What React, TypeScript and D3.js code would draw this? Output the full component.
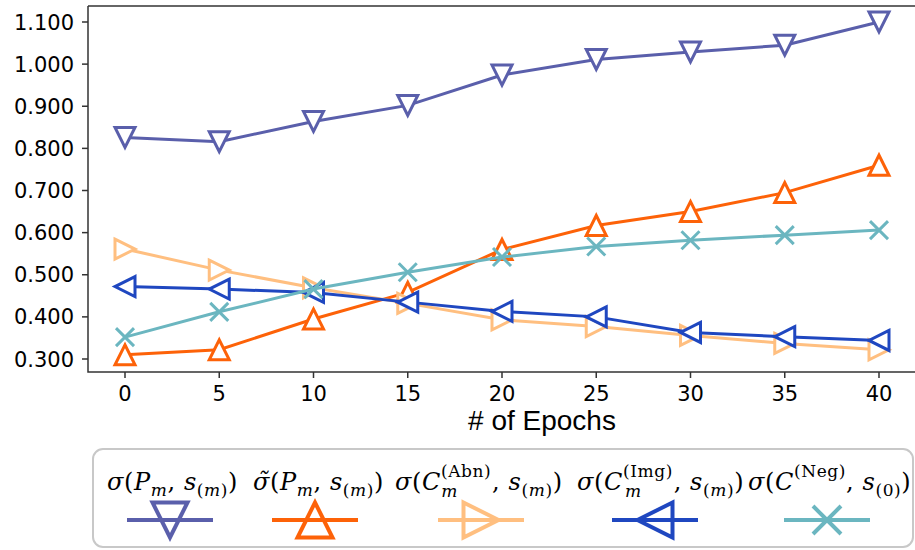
import React from "react";
import * as d3 from "d3";

const epochs = [0, 5, 10, 15, 20, 25, 30, 35, 40];
const sigmaP = [0.826, 0.816, 0.864, 0.902, 0.974, 1.011, 1.029, 1.045, 1.1];
const sigmaTildeP = [0.31, 0.322, 0.395, 0.458, 0.56, 0.617, 0.65, 0.695, 0.76];
const sigmaAbn = [0.561, 0.511, 0.469, 0.432, 0.393, 0.377, 0.356, 0.337, 0.322];
const sigmaImg = [0.472, 0.466, 0.458, 0.435, 0.413, 0.4, 0.363, 0.353, 0.344];
const sigmaNeg = [0.352, 0.412, 0.466, 0.506, 0.542, 0.567, 0.582, 0.594, 0.606];
const yTicks = [0.3, 0.4, 0.5, 0.6, 0.7, 0.8, 0.9, 1.0, 1.1];
const xTicks = [0, 5, 10, 15, 20, 25, 30, 35, 40];

const series = [
  { key: "p", values: sigmaP, color: "#5a5fab", marker: "down" },
  { key: "pt", values: sigmaTildeP, color: "#fd6208", marker: "up" },
  { key: "abn", values: sigmaAbn, color: "#ffbf80", marker: "right" },
  { key: "img", values: sigmaImg, color: "#1f47c0", marker: "left" },
  { key: "neg", values: sigmaNeg, color: "#6bb6c0", marker: "x" },
];

const W = 915, H = 550;
const M = { left: 88, top: 6, bottom: 372 };

// matplotlib-like marker outlines, centred on bbox
function markerPath(type: string, s: number) {
  const h = s / 2;
  if (type === "down") return `M${-h},${-h}L${h},${-h}L0,${h}Z`;
  if (type === "up") return `M${-h},${h}L${h},${h}L0,${-h}Z`;
  if (type === "right") return `M${-h},${-h}L${h},0L${-h},${h}Z`;
  if (type === "left") return `M${h},${-h}L${-h},0L${h},${h}Z`;
  return `M${-h},${-h}L${h},${h}M${-h},${h}L${h},${-h}`;
}

const serif = "DejaVu Serif";

function Labels() {
  const fs = 24, ss = 17;
  const it = { fontStyle: "italic" } as const;
  return (
    <g fontFamily={serif} fontSize={fs} fill="#000" letterSpacing={0.6}>
      <text x={107} y={490}>
        <tspan {...it}>σ</tspan>(<tspan {...it}>P</tspan>
        <tspan fontSize={ss} {...it} dy={6}>m</tspan>
        <tspan dy={-6}>, </tspan><tspan {...it}>s</tspan>
        <tspan fontSize={ss} dy={6}>(<tspan {...it}>m</tspan>)</tspan>
        <tspan dy={-6}>)</tspan>
      </text>
      <text x={253} y={490}>
        <tspan {...it}>σ̃</tspan>(<tspan {...it}>P</tspan>
        <tspan fontSize={ss} {...it} dy={6}>m</tspan>
        <tspan dy={-6}>, </tspan><tspan {...it}>s</tspan>
        <tspan fontSize={ss} dy={6}>(<tspan {...it}>m</tspan>)</tspan>
        <tspan dy={-6}>)</tspan>
      </text>
      <text x={395} y={490}>
        <tspan {...it}>σ</tspan>(<tspan {...it}>C</tspan>
        <tspan fontSize={ss} dy={-13}>(Abn)</tspan>
        <tspan fontSize={ss} {...it} dx={-50} dy={20}>m</tspan>
        <tspan dx={34} dy={-7}>, </tspan><tspan {...it}>s</tspan>
        <tspan fontSize={ss} dy={6}>(<tspan {...it}>m</tspan>)</tspan>
        <tspan dy={-6}>)</tspan>
      </text>
      <text x={577} y={490}>
        <tspan {...it}>σ</tspan>(<tspan {...it}>C</tspan>
        <tspan fontSize={ss} dy={-13}>(Img)</tspan>
        <tspan fontSize={ss} {...it} dx={-48} dy={20}>m</tspan>
        <tspan dx={32} dy={-7}>, </tspan><tspan {...it}>s</tspan>
        <tspan fontSize={ss} dy={6}>(<tspan {...it}>m</tspan>)</tspan>
        <tspan dy={-6}>)</tspan>
      </text>
      <text x={748} y={490}>
        <tspan {...it}>σ</tspan>(<tspan {...it}>C</tspan>
        <tspan fontSize={ss} dy={-13}>(Neg)</tspan>
        <tspan dy={13}>, </tspan><tspan {...it}>s</tspan>
        <tspan fontSize={ss} dy={6}>(0)</tspan>
        <tspan dy={-6}>)</tspan>
      </text>
    </g>
  );
}

export default function App() {
  const x = d3.scaleLinear().domain([0, 40]).range([125, 879]);
  const y = d3.scaleLinear().domain([0.3, 1.1]).range([359, 22]);
  const line = d3.line<number>().x((_, i) => x(epochs[i])).y((d) => y(d));
  const fmt = d3.format(".3f");
  const legendX = [170, 315, 481, 655, 827];

  return (
    <svg width={W} height={H} style={{ position: "absolute", left: 0, top: 0, background: "#fff" }}>
      <rect width={W} height={H} fill="#fff" />
      {series.map((s) => (
        <g key={s.key}>
          <path d={line(s.values) || ""} fill="none" stroke={s.color} strokeWidth={3} />
          {s.values.map((v, i) => (
            <path key={i} transform={`translate(${x(epochs[i])},${y(v)})`}
              d={markerPath(s.marker, s.marker === "x" ? 18 : 20)}
              fill={s.marker === "x" ? "none" : "#fff"} stroke={s.color} strokeWidth={3}
              strokeLinejoin="miter" />
          ))}
        </g>
      ))}
      {/* spines */}
      <g stroke="#333" strokeWidth={1.5} fill="none">
        <path d={`M${M.left},${M.top}V${M.bottom}H${W}`} />
        <path d={`M${M.left},${M.top}H${W}`} />
      </g>
      <g fontFamily="DejaVu Sans" fontSize={21} fill="#000">
        {yTicks.map((t) => (
          <g key={t} transform={`translate(0,${y(t)})`}>
            <line x1={M.left - 6} x2={M.left} stroke="#333" strokeWidth={1.5} />
            <text x={M.left - 14} dy="0.36em" textAnchor="end">{fmt(t)}</text>
          </g>
        ))}
        {xTicks.map((t) => (
          <g key={t} transform={`translate(${x(t)},0)`}>
            <line y1={M.bottom} y2={M.bottom + 6} stroke="#333" strokeWidth={1.5} />
            <text y={401} textAnchor="middle">{t}</text>
          </g>
        ))}
      </g>
      <text x={542} y={430} textAnchor="middle" fontFamily="Liberation Sans" fontSize={28}># of Epochs</text>
      {/* legend */}
      <rect x={93} y={449} width={820} height={98} rx={10} fill="#fff" fillOpacity={0.8} stroke="#c8c8c8" strokeWidth={2} />
      <Labels />
      {series.map((s, i) => (
        <g key={s.key} transform={`translate(${legendX[i]},520)`}>
          <line x1={-43} x2={43} stroke={s.color} strokeWidth={4} />
          <path d={markerPath(s.marker, s.marker === "x" ? 28 : 35)}
            fill="none" stroke={s.color} strokeWidth={4} />
        </g>
      ))}
    </svg>
  );
}
